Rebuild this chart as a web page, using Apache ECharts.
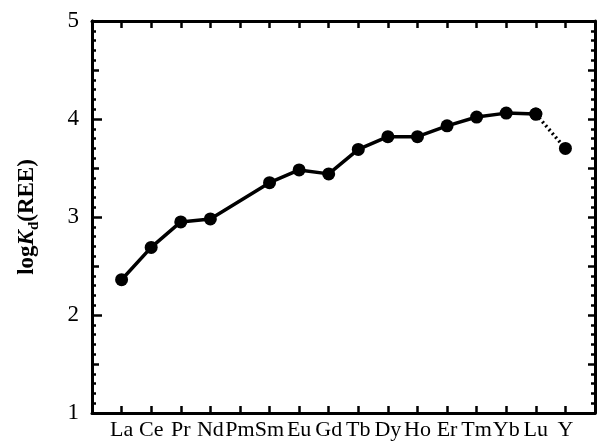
<!DOCTYPE html>
<html>
<head>
<meta charset="utf-8">
<script src="https://cdn.jsdelivr.net/npm/echarts@6/dist/echarts.min.js"></script>
<style>
  html, body { margin: 0; padding: 0; background: #fff; }
  #main { width: 598px; height: 442px; }
</style>
</head>
<body>
<div id="main"></div>
<script>
// element order along the x axis (position 1..16)
var elements = ['La', 'Ce', 'Pr', 'Nd', 'Pm', 'Sm', 'Eu', 'Gd', 'Tb', 'Dy', 'Ho', 'Er', 'Tm', 'Yb', 'Lu', 'Y'];
var logKd = [2.36, 2.69, 2.95, 2.98, null, 3.35, 3.48, 3.44, 3.69, 3.82, 3.82, 3.93, 4.02, 4.06, 4.05, 3.70];

// solid line runs La..Lu, dotted line joins Lu to Y
var solidPts = [];
for (var i = 0; i < elements.length - 1; i++) {
  if (logKd[i] != null) solidPts.push([i + 1, logKd[i]]);
}
var n = elements.length;
var dottedPts = [[n - 1, logKd[n - 2]], [n, logKd[n - 1]]];

var font = '"Liberation Serif", "DejaVu Serif", serif';
var myChart = echarts.init(document.getElementById('main'));

var halfAxis = function (pos) {
  return {
    type: 'value', position: pos, min: 1, max: 5, interval: 0.5,
    axisLine: { show: true, lineStyle: { color: '#000', width: 3 } },
    axisTick: { show: true, inside: true, length: 7, lineStyle: { color: '#000', width: 2.5 } },
    minorTick: { show: true, splitNumber: 5, length: 4, lineStyle: { color: '#000', width: 2.5 } },
    axisLabel: { show: false },
    splitLine: { show: false }
  };
};

var option = {
  animation: false,
  grid: { left: 92, right: 3, top: 21, bottom: 29 },
  xAxis: [
    {
      type: 'value', position: 'bottom', min: 0, max: 17, interval: 1,
      axisLine: { show: true, lineStyle: { color: '#000', width: 3 } },
      axisTick: { show: true, inside: true, length: 7, lineStyle: { color: '#000', width: 2.5 } },
      axisLabel: {
        margin: 6, color: '#000', fontFamily: font, fontSize: 22,
        formatter: function (v) { return elements[v - 1] || ''; }
      },
      splitLine: { show: false }
    },
    {
      type: 'value', position: 'top', min: 0, max: 17, interval: 1,
      axisLine: { show: true, lineStyle: { color: '#000', width: 3 } },
      axisTick: { show: true, inside: true, length: 7, lineStyle: { color: '#000', width: 2.5 } },
      axisLabel: { show: false },
      splitLine: { show: false }
    }
  ],
  yAxis: [
    {
      type: 'value', position: 'left', min: 1, max: 5, interval: 1,
      name: '{b|log}{i|K}{s|d}{b|(REE)}',
      nameLocation: 'middle', nameRotate: 90, nameGap: 50,
      nameTextStyle: {
        rich: {
          b: { fontFamily: font, fontWeight: 'bold', fontSize: 23, color: '#000', lineHeight: 30 },
          i: { fontFamily: font, fontWeight: 'bold', fontStyle: 'italic', fontSize: 23, color: '#000', lineHeight: 30 },
          s: { fontFamily: font, fontWeight: 'bold', fontSize: 15, color: '#000', lineHeight: 30, verticalAlign: 'bottom', padding: [12, 0, 0, 0] }
        }
      },
      axisLine: { show: true, lineStyle: { color: '#000', width: 3 } },
      axisTick: { show: true, inside: true, length: 10, lineStyle: { color: '#000', width: 2.5 } },
      axisLabel: { margin: 13, color: '#000', fontFamily: font, fontSize: 23 },
      splitLine: { show: false }
    },
    halfAxis('left'),
    halfAxis('right')
  ],
  series: [
    {
      type: 'line', data: solidPts,
      symbol: 'circle', symbolSize: 13,
      itemStyle: { color: '#000' },
      lineStyle: { color: '#000', width: 3.5 }
    },
    {
      type: 'line', data: dottedPts,
      symbol: 'circle', symbolSize: 13,
      itemStyle: { color: '#000' },
      lineStyle: { color: '#000', width: 3.5, type: [2, 3] }
    }
  ]
};

myChart.setOption(option);
</script>
</body>
</html>
